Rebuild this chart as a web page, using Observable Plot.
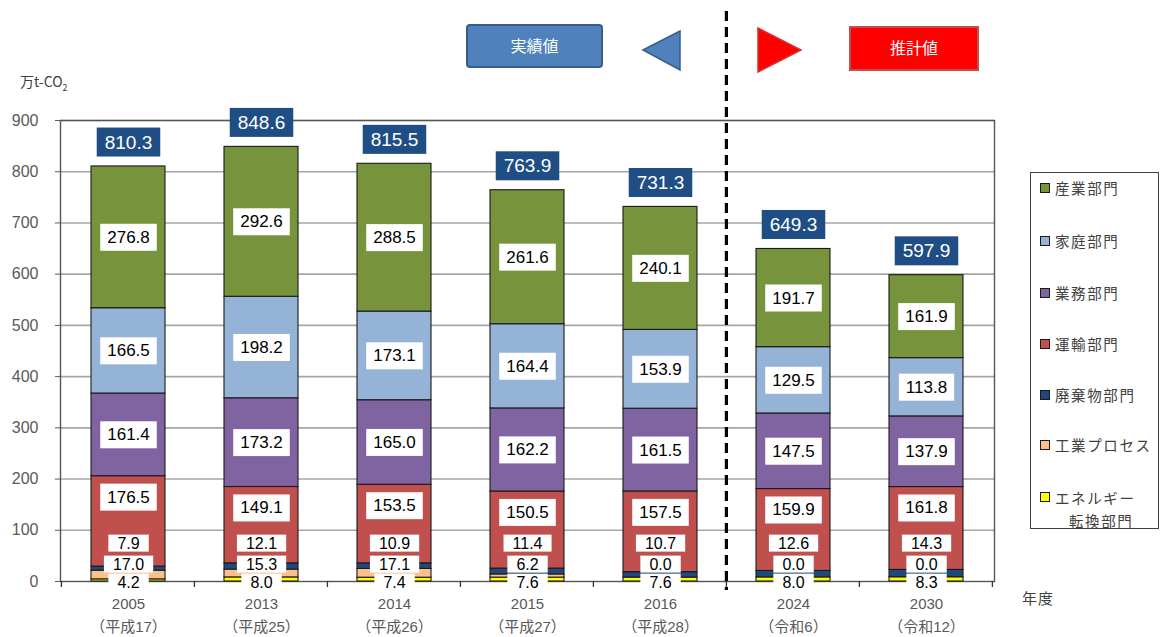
<!DOCTYPE html>
<html><head><meta charset="utf-8">
<script src="https://cdn.jsdelivr.net/npm/d3@7"></script>
<script src="https://cdn.jsdelivr.net/npm/@observablehq/plot@0.6"></script>
<style>
body{margin:0;background:#fff;font-family:"Liberation Sans",Arial,"Noto Sans CJK JP",sans-serif;}
#wrap{position:relative;width:1163px;height:637px;overflow:hidden;background:#fff;}
#chart{position:absolute;left:0;top:0;}
.ov{position:absolute;white-space:nowrap;}
#legend{position:absolute;left:1030px;top:172px;width:129px;height:357px;border:1px solid #404040;box-sizing:border-box;background:#fff;}
.li{position:absolute;left:24px;font-family:"Noto Sans CJK JP",sans-serif;font-size:14.5px;letter-spacing:1.6px;color:#404040;line-height:20px;}
.sw{position:absolute;left:9px;width:8px;height:8px;border:1px solid #1a1a1a;}
#hdr{position:absolute;left:0;top:0;}
</style></head><body>
<div id="wrap">
<div id="chart"></div>
<svg id="hdr" width="1163" height="100"></svg>
<div class="ov" style="left:20px;top:71px;font-family:'Noto Sans CJK JP',sans-serif;font-size:14px;color:#404040;">万t-CO<sub style="font-size:9px;">2</sub></div>
<div class="ov" style="left:1022px;top:587px;font-family:'Noto Sans CJK JP',sans-serif;font-size:15px;color:#404040;letter-spacing:1px;">年度</div>
<div id="legend"></div>
</div>
<script>
// ---- data ----
const years = ["2005","2013","2014","2015","2016","2024","2030"];
const eras = ["平成17","平成25","平成26","平成27","平成28","令和6","令和12"];
const sectors = ["産業部門","家庭部門","業務部門","運輸部門","廃棄物部門","工業プロセス","エネルギー転換部門"];
const sectorColors = ["#77933c","#95b3d7","#8064a2","#c0504d","#1f497d","#fac090","#ffff00"];
const industry  = [276.8, 292.6, 288.5, 261.6, 240.1, 191.7, 161.9];
const household = [166.5, 198.2, 173.1, 164.4, 153.9, 129.5, 113.8];
const business  = [161.4, 173.2, 165.0, 162.2, 161.5, 147.5, 137.9];
const transport = [176.5, 149.1, 153.5, 150.5, 157.5, 159.9, 161.8];
const waste     = [7.9, 12.1, 10.9, 11.4, 10.7, 12.6, 14.3];
const process   = [17.0, 15.3, 17.1, 6.2, 0.0, 0.0, 0.0];
const energy    = [4.2, 8.0, 7.4, 7.6, 7.6, 8.0, 8.3];
const totals    = [810.3, 848.6, 815.5, 763.9, 731.3, 649.3, 597.9];
const yTicks = [0,100,200,300,400,500,600,700,800,900];

const seriesBySector = {
  "産業部門": industry, "家庭部門": household, "業務部門": business, "運輸部門": transport,
  "廃棄物部門": waste, "工業プロセス": process, "エネルギー転換部門": energy
};
const bottomUp = sectors.slice().reverse();

// build table with stacked extents
const rows = [];
years.forEach((yr, i) => {
  let base = 0;
  bottomUp.forEach(s => {
    const v = seriesBySector[s][i];
    rows.push({year: yr, sector: s, value: v, y1: base, y2: base + v, mid: base + v / 2});
    base += v;
  });
});
const fmt = v => v.toFixed(1);
const midRows = rows.filter(r => ["産業部門","家庭部門","業務部門"].includes(r.sector));
const transRows = rows.filter(r => r.sector === "運輸部門");
const wasteRows = rows.filter(r => r.sector === "廃棄物部門");
const procRows = rows.filter(r => r.sector === "工業プロセス");
const enRows = rows.filter(r => r.sector === "エネルギー転換部門");
const totalRows = years.map((yr, i) => ({year: yr, total: totals[i]}));
const eraOf = Object.fromEntries(years.map((y, i) => [y, eras[i]]));

const PI = 0.445;

const guides = (index, scales) => {
  const x = scales.x, y = scales.y;
  const step = x(years[1]) - x(years[0]);
  const bw = step * (1 - PI);
  const g = d3.create("svg:g");
  const y0 = y(0);
  const bounds = years.map(d => x(d) - step * PI / 2);
  bounds.push(x(years[years.length - 1]) + bw + step * PI / 2);
  bounds.forEach(bx => {
    g.append("line").attr("x1", bx).attr("x2", bx).attr("y1", y0).attr("y2", y0 + 6)
      .attr("stroke", "#333").attr("stroke-width", 1.3);
  });
  const dx = (x("2016") + bw + x("2024")) / 2;
  g.append("line").attr("x1", dx).attr("x2", dx).attr("y1", 11).attr("y2", y0 + 9)
    .attr("stroke", "#000").attr("stroke-width", 3.2).attr("stroke-dasharray", "10 6");
  return g.node();
};

const lbl = {fontSize: 17, fill: "#000", fontFamily: "Liberation Sans, Arial, sans-serif"};
const slbl = {fontSize: 16, fill: "#000", fontFamily: "Liberation Sans, Arial, sans-serif"};

const plot = Plot.plot({
  width: 1163, height: 637,
  marginLeft: 60, marginRight: 169, marginTop: 120, marginBottom: 56,
  style: {background: "#fff", fontFamily: "Liberation Sans, Arial, 'Noto Sans CJK JP', sans-serif"},
  x: {type: "band", domain: years, paddingInner: PI, paddingOuter: PI / 2},
  y: {domain: [0, 900]},
  color: {domain: sectors, range: sectorColors},
  marks: [
    Plot.ruleY(yTicks.slice(1), {stroke: "#a6a6a6", strokeWidth: 1.6}),
    Plot.frame({stroke: "#555", strokeWidth: 1.4}),
    Plot.axisY({ticks: yTicks, tickSize: 5, tickPadding: 17, fontSize: 16, color: "#595959", label: null}),
    Plot.axisX({tickSize: 0, tickPadding: 12, fontSize: 15, lineHeight: 1.5, color: "#595959", label: null,
      tickFormat: d => d + "\n（" + eraOf[d] + "）"}),
    Plot.barY(rows, {x: "year", y1: "y1", y2: "y2", fill: "sector", stroke: "#1a1a1a", strokeWidth: 1.1}),
    guides,
    Plot.text(midRows, {x: "year", y: "mid", text: d => fmt(d.value), ...lbl, ariaDescription: "vlabel"}),
    Plot.text(transRows, {x: "year", y: "y2", dy: 21, text: d => fmt(d.value), ...lbl, ariaDescription: "vlabel"}),
    Plot.text(wasteRows, {x: "year", y: () => 0, dy: -38, text: d => fmt(d.value), ...slbl, ariaDescription: "slabel"}),
    Plot.text(procRows, {x: "year", y: () => 0, dy: -17, text: d => fmt(d.value), ...slbl, ariaDescription: "slabel"}),
    Plot.text(enRows, {x: "year", y: () => 0, dy: 1, text: d => fmt(d.value), ...slbl, ariaDescription: "slabel"}),
    Plot.text(totalRows, {x: "year", y: "total", dy: -24, text: d => fmt(d.total), fontSize: 19, fill: "#fff",
      fontFamily: "Liberation Sans, Arial, sans-serif", ariaDescription: "tlabel"})
  ]
});
document.getElementById("chart").appendChild(plot);

// boxes behind labels
const NS = "http://www.w3.org/2000/svg";
function boxify(desc, fill, padX, h) {
  plot.querySelectorAll(`g[aria-description="${desc}"] text`).forEach(t => {
    const b = t.getBBox();
    const r = document.createElementNS(NS, "rect");
    r.setAttribute("x", b.x - padX);
    r.setAttribute("y", b.y + b.height / 2 - h / 2);
    r.setAttribute("width", b.width + 2 * padX);
    r.setAttribute("height", h);
    r.setAttribute("fill", fill);
    r.setAttribute("stroke", "none");
    const tr = t.getAttribute("transform");
    if (tr) r.setAttribute("transform", tr);
    t.parentNode.insertBefore(r, t);
  });
}
boxify("vlabel", "#fff", 7, 27);
boxify("slabel", "#fff", 9, 17);
boxify("tlabel", "#1f4e84", 8, 29);

// header
const hdr = d3.select("#hdr");
hdr.append("rect").attr("x", 467).attr("y", 25).attr("width", 135).attr("height", 42).attr("rx", 3)
  .attr("fill", "#4f81bd").attr("stroke", "#385d8a").attr("stroke-width", 2);
hdr.append("text").attr("x", 534.5).attr("y", 46).attr("dy", "0.35em").attr("text-anchor", "middle")
  .attr("fill", "#fff").attr("font-size", 16).attr("font-family", "Noto Sans CJK JP").text("実績値");
hdr.append("polygon").attr("points", "643,50 680,31 680,70").attr("fill", "#4f81bd").attr("stroke", "#385d8a").attr("stroke-width", 1.5);
hdr.append("polygon").attr("points", "758,28 758,72 801,50").attr("fill", "#ff0000").attr("stroke", "#d43030").attr("stroke-width", 1.5);
hdr.append("rect").attr("x", 850).attr("y", 27).attr("width", 128).attr("height", 43)
  .attr("fill", "#ff0000").attr("stroke", "#c0504d").attr("stroke-width", 2);
hdr.append("text").attr("x", 914).attr("y", 48.5).attr("dy", "0.35em").attr("text-anchor", "middle")
  .attr("fill", "#fff").attr("font-size", 16).attr("font-family", "Noto Sans CJK JP").text("推計値");

// legend
const legend = document.getElementById("legend");
const legendTops = [15, 68, 120, 171, 222, 272, 324];
sectors.forEach((s, i) => {
  const c = legendTops[i];
  const sw = document.createElement("div");
  sw.className = "sw"; sw.style.top = (c - 5) + "px"; sw.style.background = sectorColors[i];
  legend.appendChild(sw);
  const t = document.createElement("div");
  t.className = "li"; t.style.top = (c - 10) + "px";
  if (s === "エネルギー転換部門") {
    t.innerHTML = "エネルギー<br><span style='padding-left:14px'>転換部門</span>";
    t.style.lineHeight = "23px"; t.style.top = (c - 11) + "px";
  } else t.textContent = s;
  legend.appendChild(t);
});
</script>
</body></html>
